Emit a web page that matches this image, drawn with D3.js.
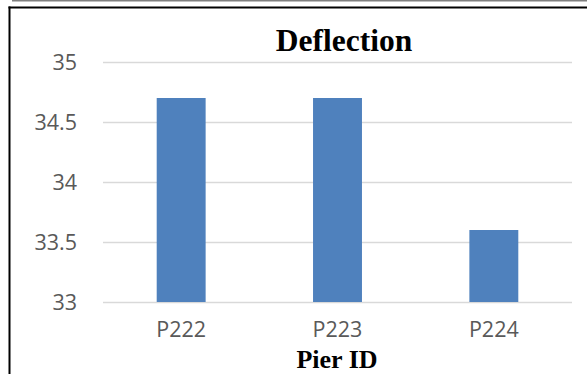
<!DOCTYPE html>
<html>
<head>
<meta charset="utf-8">
<script src="https://cdn.jsdelivr.net/npm/d3@7"></script>
<style>
  html, body { margin: 0; padding: 0; background: #fff; }
  svg { display: block; }
</style>
</head>
<body>
<svg id="chart" width="587" height="374"></svg>
<script>
// Pier deflection values
const piers = ["P222", "P223", "P224"];
const deflection = [34.7, 34.7, 33.6];
const yTicks = [33, 33.5, 34, 34.5, 35];
const yTickLabels = ["33", "33.5", "34", "34.5", "35"];

const svg = d3.select("#chart");
const W = 587, H = 374;
const plot = { left: 103, right: 572, top: 62, bottom: 302 };

// frame lines
svg.append("line").attr("x1", 12).attr("x2", W).attr("y1", 0.75).attr("y2", 0.75)
  .attr("stroke", "#7f7f7f").attr("stroke-width", 1.5);
svg.append("line").attr("x1", 8.5).attr("x2", W).attr("y1", 7.5).attr("y2", 7.5)
  .attr("stroke", "#000").attr("stroke-width", 2);
svg.append("line").attr("x1", 9.5).attr("x2", 9.5).attr("y1", 6.5).attr("y2", H)
  .attr("stroke", "#000").attr("stroke-width", 2);

const x = d3.scaleBand().domain(piers)
  .range([plot.left, plot.right])
  .paddingInner(0.687).paddingOuter(0.3435);
const y = d3.scaleLinear().domain([33, 35]).range([plot.bottom, plot.top]);

// y axis with gridlines
const yAxis = d3.axisLeft(y)
  .tickValues(yTicks)
  .tickFormat((d, i) => yTickLabels[i])
  .tickSizeInner(-(plot.right - plot.left))
  .tickSizeOuter(0)
  .tickPadding(26);
const gy = svg.append("g").attr("transform", `translate(${plot.left},0)`).call(yAxis);
gy.select(".domain").remove();
gy.selectAll(".tick line").attr("stroke", "#d9d9d9").attr("stroke-width", 1.6);
gy.selectAll(".tick text")
  .attr("fill", "#595959")
  .attr("font-family", "'Open Sans', sans-serif")
  .attr("font-size", 21.5)
  .attr("dy", "0.36em");

// bars
svg.append("g").selectAll("rect")
  .data(piers.map((p, i) => ({ p, v: deflection[i] })))
  .join("rect")
  .attr("x", d => x(d.p))
  .attr("y", d => y(d.v))
  .attr("width", x.bandwidth())
  .attr("height", d => y(33) - y(d.v))
  .attr("fill", "#4f81bd");

// x axis labels
const xAxis = d3.axisBottom(x).tickSize(0).tickPadding(27);
const gx = svg.append("g").attr("transform", `translate(0,${plot.bottom})`).call(xAxis);
gx.select(".domain").remove();
gx.selectAll(".tick text")
  .attr("fill", "#595959")
  .attr("font-family", "'Open Sans', sans-serif")
  .attr("font-size", 21.5)
  .attr("dy", "0.36em");

// title and axis title
svg.append("text")
  .attr("x", 344).attr("y", 51)
  .attr("text-anchor", "middle")
  .attr("font-family", "'Liberation Serif', 'Times New Roman', serif")
  .attr("font-weight", "bold")
  .attr("font-size", 31.5)
  .attr("fill", "#000")
  .text("Deflection");

svg.append("text")
  .attr("x", 337).attr("y", 368)
  .attr("text-anchor", "middle")
  .attr("font-family", "'Liberation Serif', 'Times New Roman', serif")
  .attr("font-weight", "bold")
  .attr("font-size", 26)
  .attr("fill", "#000")
  .text("Pier ID");
</script>
</body>
</html>
